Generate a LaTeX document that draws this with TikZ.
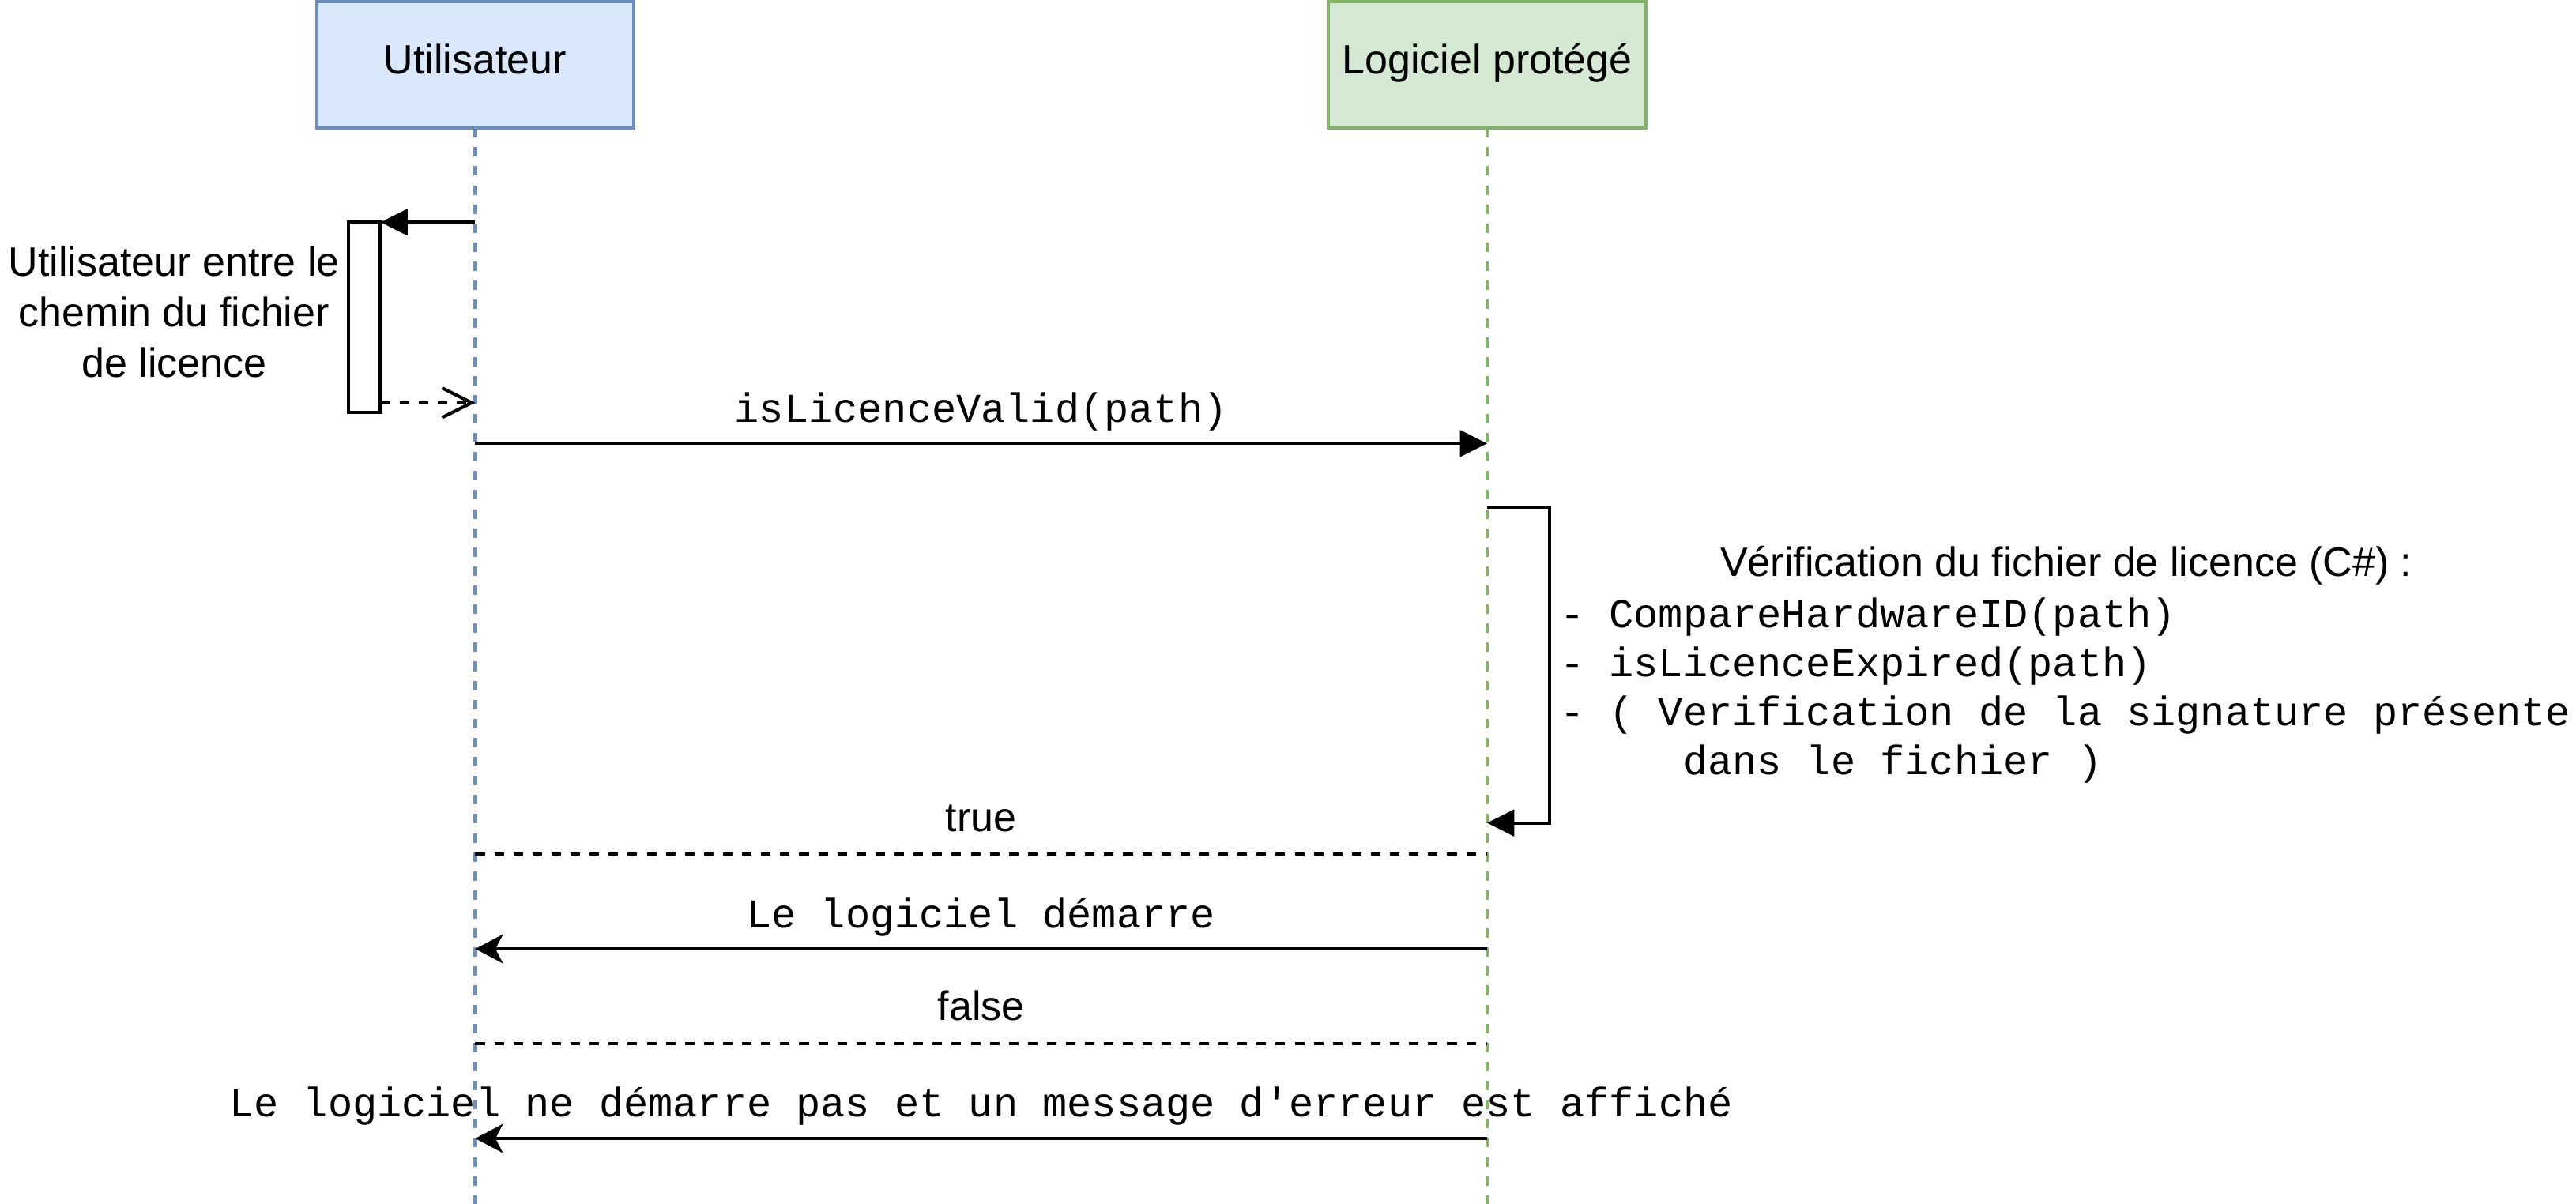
\documentclass[tikz,border=0pt]{standalone}
\usepackage{fontspec}
\setmainfont{Liberation Sans}
\setmonofont{Liberation Mono}
\usetikzlibrary{arrows.meta}
\definecolor{uFill}{HTML}{DAE8FC}
\definecolor{uLine}{HTML}{6C8EBF}
\definecolor{lFill}{HTML}{D5E8D4}
\definecolor{lLine}{HTML}{82B366}
\tikzset{
  actor/.style={draw, line width=2pt, minimum width=193pt, minimum height=77pt,
    inner sep=0pt, outer sep=0pt, font=\fontsize{25}{30}\selectfont,
    text height=18pt, text depth=7pt},
  lifeline/.style={line width=2pt, dash pattern=on 5.8pt off 5.8pt},
  sanslbl/.style={inner sep=0pt, outer sep=0pt, font=\fontsize{25}{30.8}\selectfont},
  monolbl/.style={inner sep=0pt, outer sep=0pt, font=\ttfamily\fontsize{25}{29.7}\selectfont},
  msgB/.style={line width=2pt, -{Triangle[length=16.5pt,width=16pt]}},
  msgC/.style={line width=2pt, -{Stealth[length=16.8pt,width=17.6pt,inset=4.5pt]}},
  retO/.style={line width=2pt, dash pattern=on 5.8pt off 5.8pt, -{Straight Barb[length=18pt,width=18pt]}},
  retD/.style={line width=2pt, dash pattern=on 5.8pt off 5.8pt},
  actbox/.style={draw, fill=white, line width=2pt, minimum width=19.3pt, minimum height=115.6pt, inner sep=0pt, outer sep=0pt}
}
\begin{document}
\begin{tikzpicture}[x=1pt,y=-1pt]
\useasboundingbox (0,0) rectangle (1568,733);
\fill[white] (0,0) rectangle (1568,733);

% actors
\node[actor, draw=uLine, fill=uFill] (user) at (289.3,39.5) {Utilisateur};
\node[actor, draw=lLine, fill=lFill] (soft) at (905.2,39.5) {Logiciel protégé};

% lifelines
\coordinate (uEnd) at (289.3,733);
\coordinate (sEnd) at (905.2,733);
\draw[lifeline, draw=uLine] (user.south) -- (uEnd);
\draw[lifeline, draw=lLine] (soft.south) -- (sEnd);

% activation on user
\node[actbox] (act) at (221.95,193.1) {};
\coordinate (u1) at (289.3,135.3);
\coordinate (u2) at (289.3,245.2);
\draw[msgB] (u1) -- (act.north east);
\draw[retO] (act.east |- u2) -- (u2);
\node[sanslbl, align=center, anchor=base] (noteUser) at (106,229.7)
  {Utilisateur entre le\\chemin du fichier\\de licence};

% isLicenceValid
\coordinate (u3) at (289.3,270);
\coordinate (s3) at (905.2,270);
\draw[msgB] (u3) -- (s3);
\node[monolbl, anchor=base] (lblValid) at (597.2,257) {isLicenceValid(path)};

% self loop on software
\coordinate (s4) at (905.2,308.6);
\coordinate (s5) at (905.2,501);
\draw[msgB] (s4) -- ++(38.1,0) |- (s5);
\node[sanslbl, anchor=base] (verifTitle) at (1257.7,350.8) {Vérification du fichier de licence (C\#) :};
\node[monolbl, align=left, anchor=base west] (verifList) at (949.5,471.4)
  {- CompareHardwareID(path)\\- isLicenceExpired(path)\\- ( Verification de la signature présente\\\hspace*{75pt}dans le fichier )};

% true
\coordinate (u6) at (289.3,520);
\coordinate (s6) at (905.2,520);
\draw[retD] (u6) -- (s6);
\node[sanslbl, anchor=base] (lblTrue) at (597.2,506.3) {true};

% starts
\coordinate (u7) at (289.3,577.7);
\coordinate (s7) at (905.2,577.7);
\draw[msgC] (s7) -- (u7);
\node[monolbl, anchor=base] (lblStart) at (597.2,564.7) {Le logiciel démarre};

% false
\coordinate (u8) at (289.3,635.4);
\coordinate (s8) at (905.2,635.4);
\draw[retD] (u8) -- (s8);
\node[sanslbl, anchor=base] (lblFalse) at (597.2,621.4) {false};

% error
\coordinate (u9) at (289.3,693.1);
\coordinate (s9) at (905.2,693.1);
\draw[msgC] (s9) -- (u9);
\node[monolbl, anchor=base] (lblErr) at (597.2,679.8) {Le logiciel ne démarre pas et un message d'erreur est affiché};
\end{tikzpicture}
\end{document}
